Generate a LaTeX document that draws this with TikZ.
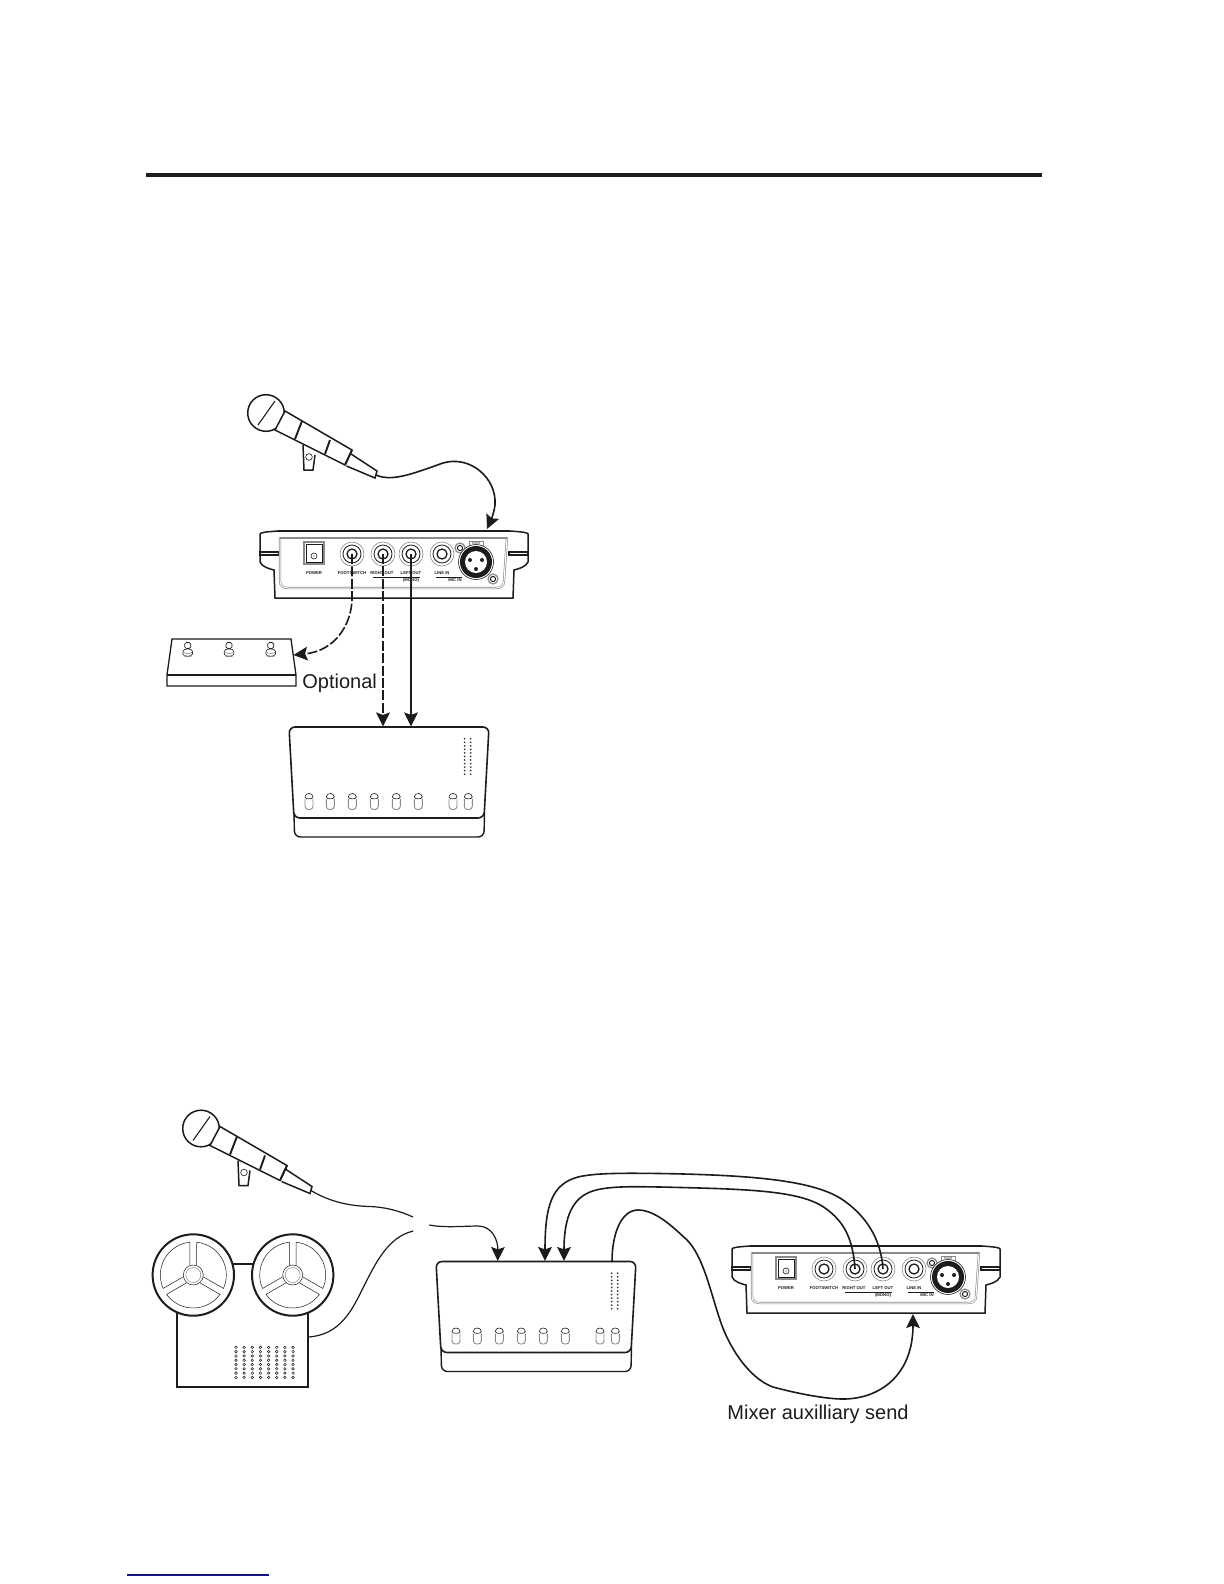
\documentclass[tikz,border=0pt]{standalone}
\usepackage{fontspec}
\setmainfont{Liberation Sans}
\usetikzlibrary{arrows.meta}
\definecolor{ink}{HTML}{1C1C1C}
\definecolor{greyline}{HTML}{8A8A8A}
\definecolor{linkblue}{HTML}{14147E}
\tikzset{
  x=0.5pt,y=-0.5pt,
  ink line/.style={draw=ink,line width=0.55pt},
  thin ink/.style={draw=ink,line width=0.3pt},
  grey ring/.style={draw=greyline,line width=0.3pt},
  panel edge/.style={draw=greyline,line width=0.3pt,double=white,double distance=0.5pt},
  cable/.style={draw=ink,line width=0.8pt},
  tipped/.style={cable,-{Stealth[length=7pt,width=6.8pt,inset=1.2pt]}},
  tiny label/.style={font=\fontsize{2.1}{2.4}\selectfont\bfseries,text=ink,inner sep=0pt},
  big label/.style={font=\fontsize{10}{12}\selectfont,text=ink,inner sep=0pt,anchor=base west},
  unitpanel/.pic={
    \draw[ink line,fill=white,line width=0.75pt] (0,3) .. controls (1,1.5) and (4,1) .. (18,0) -- (250,0)
      .. controls (264,1) and (267,1.5) .. (268,3) -- (268,31) .. controls (266,36) and (258,38) .. (254,39)
      -- (253,67) -- (15,67) -- (14,39) .. controls (10,38) and (2,36) .. (0,31) -- cycle;
    \draw[draw=ink,line width=1pt] (18,0) -- (250,0);
    \draw[ink line,line width=0.7pt,fill=white] (0,21) rectangle (19,24);
    \draw[ink line,line width=0.7pt,fill=white] (249,21) rectangle (268,24);
    \draw[panel edge] (20,6) -- (20,50) .. controls (20,55) and (23,57) .. (28,57) -- (236,57)
      .. controls (241,57) and (244,55) .. (244,50) -- (247,6);
    \draw[draw=greyline,line width=1pt] (20,6.5) -- (247,6.5);
    % power switch
    \draw[draw=greyline,line width=0.7pt] (44,11) rectangle (64,33);
    \draw[thin ink] (46,13) rectangle (62,31);
    \draw[thin ink] (54,25) circle[radius=3];
    \fill[ink] (54,25) circle[radius=0.7];
    % jacks
    \foreach \jx/\jn in {92/fs,123/rout,151/lout,182/line}{
      \draw[grey ring] (\jx,23) circle[radius=12];
      \draw[thin ink,line width=0.4pt] (\jx,23) circle[radius=9];
      \draw[ink line,line width=0.65pt] (\jx,23) circle[radius=5];
      \coordinate (-\jn) at (\jx,23);
    }
    % screws and XLR
    \foreach \sx/\sy in {200/17,233/48}{
      \draw[grey ring,fill=white,line width=0.6pt] (\sx,\sy) circle[radius=5];
      \draw[ink line,line width=0.5pt] (\sx,\sy) circle[radius=2.6];
    }
    \draw[grey ring,fill=white] (209,10) rectangle (223,15);
    \node[tiny label,font=\fontsize{1.5}{2}\selectfont] (-lpush) at (216,12.5) {PUSH};
    \draw[thin ink,fill=white] (216,31) circle[radius=17.5];
    \fill[ink] (216,31) circle[radius=16];
    \fill[white] (216,31) circle[radius=11];
    \foreach \px/\py in {210/29,222/29,216/38}{\fill[ink] (\px,\py) circle[radius=2];}
    % labels
    \node[tiny label] (-lpower) at (54,42.5) {POWER};
    \node[tiny label] (-lfs) at (92,42.5) {FOOTSWITCH};
    \node[tiny label] (-lrout) at (122,42.5) {RIGHT OUT};
    \node[tiny label] (-llout) at (151,42.5) {LEFT OUT};
    \node[tiny label] (-lline) at (182,42.5) {LINE IN};
    \draw[ink line,line width=0.35pt] (113,46) -- (160,46);
    \draw[ink line,line width=0.35pt] (176,46) -- (202,46);
    \node[tiny label] (-lmono) at (151,49) {(MONO)};
    \node[tiny label] (-lmic) at (195,49) {MIC IN};
  },
  mixerbox/.pic={
    \draw[draw=ink,line width=0.7pt,rounded corners=3pt] (5,85) -- (5.5,110) -- (195,110) -- (195.5,85);
    \draw[draw=ink,line width=0.8pt,fill=white,rounded corners=3pt] (5,91) -- (0,0) -- (200,0) -- (195,91) -- cycle;
    \foreach \kx in {20,41.3,63.3,85.3,107.3,129.3,164,179.3}{
      \draw[draw=greyline,line width=0.45pt,rounded corners=1.6pt] (\kx-4,72) -- (\kx-4,82.5) -- (\kx+4,82.5) -- (\kx+4,72);
      \draw[draw=ink,line width=0.3pt] (\kx-4,70) .. controls (\kx-4,65.3) and (\kx+4,65.3) .. (\kx+4,70)
        .. controls (\kx+4,72.5) and (\kx-4,72.5) .. (\kx-4,70) -- cycle;
    }
    \foreach \dx in {175.7,181.7}{
      \foreach \dn in {0,...,10}{
        \fill[ink!85] (\dx,11.7+\dn*3.55) circle[radius=1];
      }
    }
  },
  micpic/.pic={
    \draw[ink line,line width=0.75pt,fill=white] (37,32) -- (38,57) -- (47,57) -- (49,42);
    \draw[thin ink] (43,44) circle[radius=3.3];
    \draw[ink line,line width=0.75pt,fill=white] (0,0) circle[radius=18.3];
    \draw[ink line] (-8,12) -- (9,-12);
    \draw[ink line,line width=0.75pt,fill=white] (19,-2) -- (86,37) -- (79,52) -- (9,17) -- cycle;
    \draw[ink line,line width=0.95pt] (36,8) -- (29,26);
    \draw[ink line,line width=0.95pt] (64,27) -- (59,41);
    \draw[ink line,line width=0.75pt,fill=white] (85,41) -- (111,58) -- (109,65) -- (80.5,53);
    \draw[ink line,line width=0.95pt] (86,37) -- (79,52);
    \coordinate (-tip) at (110,62);
  },
  reelpic/.pic={
    \begin{scope}[yscale=-1]
    \draw[draw=ink,line width=1pt,fill=white] (0,0) circle[radius=40.7];
    \foreach \wa in {0,120,240}{
      \draw[draw=ink,line width=0.25pt] (\wa+71:10.5) -- (\wa+84:33)
        arc[start angle=\wa+84,end angle=\wa-24,radius=33] -- (\wa-11:10.5);
    }
    \draw[draw=ink,line width=0.25pt] (0,0) circle[radius=10];
    \draw[draw=greyline,line width=0.25pt] (0,0) circle[radius=7.5];
    \end{scope}
  },
  pedalknob/.pic={
    \draw[draw=ink,line width=0.3pt,fill=white,rounded corners=0.8pt] (-3,-2.5) rectangle (3,3.5);
    \draw[draw=ink,line width=0.3pt,fill=white] (-4.8,6.5) .. controls (-4.8,3) and (4.8,3) .. (4.8,6.5)
      -- (4.8,9) .. controls (4.8,12) and (-4.8,12) .. (-4.8,9) -- cycle;
    \draw[draw=greyline,line width=0.5pt] (-4,10.5) .. controls (-2,12) and (2,12) .. (4,10.5);
    \draw[draw=greyline,line width=0.3pt] (-4.8,7) .. controls (-2,9) and (2,9) .. (4.8,7);
  }
}
\begin{document}
\begin{tikzpicture}
\useasboundingbox[fill=white] (0,0) rectangle (1224,1584);

% page rules
\coordinate (ruleA) at (146,175);
\coordinate (ruleB) at (1042,175);
\draw[draw=ink,line width=2.1pt] (ruleA) -- (ruleB);
\coordinate (ruleC) at (127,1575);
\coordinate (ruleD) at (269,1575);
\draw[draw=linkblue,line width=0.8pt] (ruleC) -- (ruleD);

% ---------- upper set-up ----------
\pic (mic1) at (266,413) {micpic};
\pic (u1) at (260,531) {unitpanel};
\pic (m1) at (289,727) {mixerbox};

% pedal
\draw[draw=ink,line width=0.65pt,fill=white] (172,639) -- (291,639) -- (296,675) -- (296,686) -- (167,686) -- (167,675) -- cycle;
\draw[draw=ink,line width=0.65pt] (167,675) -- (296,675);
\foreach \nx in {187.7,229,270.7}{ \pic at (\nx,645) {pedalknob}; }
\coordinate (pedalR) at (293.5,655);

\node[big label] (optional) at (302,688) {Optional};

\coordinate (m1a) at (383,726.5);
\coordinate (m1b) at (411,726.5);
\coordinate (u1in) at (487,529);

\draw[tipped] (mic1-tip) .. controls (392,482) and (412,474) .. (443,463)
  .. controls (470,455) and (497,478) .. (495,505) .. controls (494,513) and (491,520) .. (u1in);
\draw[tipped,dash pattern=on 5pt off 1.2pt] (u1-fs) -- (352,600)
  .. controls (351,625) and (335,651) .. (pedalR);
\draw[tipped,dash pattern=on 5pt off 1.2pt] (u1-rout) -- (m1a);
\draw[tipped] (u1-lout) -- (m1b);

% ---------- lower set-up ----------
\pic (mic2) at (201,1128.5) {micpic};

% tape machine
\draw[draw=ink,line width=0.9pt] (176.7,1300) -- (176.7,1387) -- (308.3,1387) -- (308.3,1300);
\coordinate (reelbarL) at (225,1263.7);
\coordinate (reelbarR) at (262,1263.7);
\draw[draw=ink,line width=1pt] (reelbarL) -- (reelbarR);
\pic (reelL) at (193.3,1275) {reelpic};
\pic (reelR) at (292.7,1275) {reelpic};
\foreach \tc in {0,...,7}{
  \foreach \tr in {0,...,7}{
    \draw[draw=ink,line width=0.25pt] (236+\tc*8.15,1347.3+\tr*4.3) circle[radius=1.3];
  }
}

\pic (m2) at (436,1261.5) {mixerbox};
\pic (u2) at (732,1246) {unitpanel};

\coordinate (tapeout) at (308.3,1337);
\coordinate (micgap) at (413,1217);
\coordinate (tapegap) at (413.3,1231);
\coordinate (joinstart) at (429.3,1225);
\coordinate (m2in) at (497.7,1261);
\coordinate (m2r) at (545,1261);
\coordinate (m2s) at (564,1261);
\coordinate (m2aux) at (612,1262);
\coordinate (u2in) at (913,1314);

\draw[cable,line width=0.6pt] (mic2-tip) .. controls (330,1202) and (350,1206) .. (370,1206.5)
  .. controls (385,1207) and (400,1211) .. (micgap);
\draw[cable,line width=0.6pt] (tapeout) .. controls (340,1335) and (352,1310) .. (362,1290)
  .. controls (376,1262) and (388,1237) .. (tapegap);
\draw[tipped,line width=0.6pt] (joinstart) .. controls (445,1228) and (465,1226) .. (478,1226)
  .. controls (492,1226) and (498,1240) .. (m2in);
\draw[tipped] (u2-lout) .. controls (881,1238) and (865,1214) .. (840,1198)
  .. controls (810,1180) and (750,1175) .. (660,1173.5)
  .. controls (620,1173) and (595,1173) .. (578,1177)
  .. controls (552,1184) and (545,1205) .. (m2r);
\draw[tipped] (u2-rout) .. controls (853,1240) and (845,1222) .. (825,1208)
  .. controls (800,1190) and (745,1189) .. (660,1187)
  .. controls (630,1186.5) and (605,1186) .. (590,1192)
  .. controls (570,1200) and (564,1222) .. (m2s);
\draw[tipped] (m2aux) .. controls (612,1232) and (622,1210) .. (638,1210)
  .. controls (655,1210) and (672,1226) .. (687,1240)
  .. controls (703,1256) and (710,1290) .. (720,1320)
  .. controls (728,1345) and (748,1378) .. (773,1387)
  .. controls (795,1393) and (825,1399) .. (843,1399)
  .. controls (880,1399) and (913,1375) .. (u2in);

\node[big label] (auxsend) at (727,1419) {Mixer auxilliary send};
\end{tikzpicture}
\end{document}
